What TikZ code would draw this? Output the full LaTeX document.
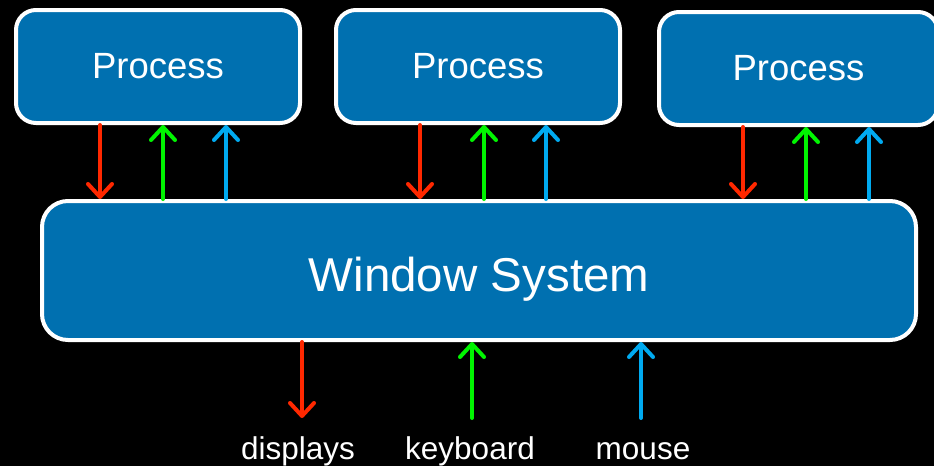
\documentclass[tikz,border=0pt]{standalone}
\usepackage{fontspec}
\setmainfont{Liberation Sans}
\usetikzlibrary{arrows.meta}
\definecolor{boxblue}{RGB}{0,112,176}
\definecolor{ared}{RGB}{255,40,0}
\definecolor{agreen}{RGB}{0,245,0}
\definecolor{ablue}{RGB}{0,170,240}
\tikzset{
  procbox/.style={draw=white, line width=4pt, fill=boxblue, rounded corners=20pt,
    minimum width=284pt, minimum height=113pt, inner sep=0pt, text=white,
    font=\fontsize{36.5}{40}\selectfont},
  wsbox/.style={draw=white, line width=4pt, fill=boxblue, rounded corners=26pt,
    minimum width=874pt, minimum height=139pt, inner sep=0pt, text=white,
    text height=41pt, text depth=0pt,
    font=\fontsize{47.5}{52}\selectfont},
  flow/.style={line width=4pt, line cap=round, line join=round,
    -{Straight Barb[length=13pt,width=24pt,line width=4pt,round]}},
  lbl/.style={text=white, font=\fontsize{31.5}{36}\selectfont, inner sep=0pt}
}
\begin{document}
\begin{tikzpicture}[x=1pt,y=-1pt]
\fill[black] (0,0) rectangle (934,466);
\useasboundingbox (0,0) rectangle (934,466);

\node[procbox] (p1) at (158,66.5) {Process};
\node[procbox] (p2) at (478,66.5) {Process};
\node[procbox, minimum width=279pt] (p3) at (798.5,68.5) {Process};
\node[wsbox] (ws) at (479,270.5) {Window System};

% process 1
\draw[flow, ared]   (p1.south -| 100,0) -- (ws.north -| 100,0);
\draw[flow, agreen] (ws.north -| 163,0) -- (p1.south -| 163,0);
\draw[flow, ablue]  (ws.north -| 226,0) -- (p1.south -| 226,0);
% process 2
\draw[flow, ared]   (p2.south -| 420,0) -- (ws.north -| 420,0);
\draw[flow, agreen] (ws.north -| 484,0) -- (p2.south -| 484,0);
\draw[flow, ablue]  (ws.north -| 546,0) -- (p2.south -| 546,0);
% process 3
\draw[flow, ared]   (p3.south -| 743,0) -- (ws.north -| 743,0);
\draw[flow, agreen] (ws.north -| 806,0) -- (p3.south -| 806,0);
\draw[flow, ablue]  (ws.north -| 869,0) -- (p3.south -| 869,0);

% devices
\coordinate (dEnd) at (302,418);
\coordinate (kStart) at (472,418);
\coordinate (mStart) at (641,418);
\draw[flow, ared]   (ws.south -| dEnd) -- (dEnd);
\draw[flow, agreen] (kStart) -- (ws.south -| kStart);
\draw[flow, ablue]  (mStart) -- (ws.south -| mStart);

\node[lbl, anchor=base] (ld) at (298,459) {displays};
\node[lbl, anchor=base] (lk) at (470,459) {keyboard};
\node[lbl, anchor=base] (lm) at (643,459) {mouse};
\end{tikzpicture}
\end{document}
